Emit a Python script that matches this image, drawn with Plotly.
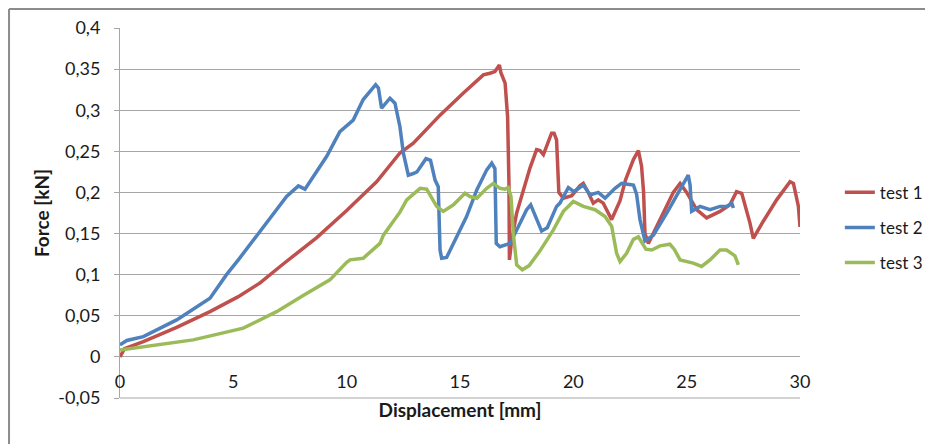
import plotly.graph_objects as go

# ---------------- data ----------------
test1_x = [0, 0.2, 1.03, 2.5, 3.97, 5.2, 6.18, 7.2, 8.68, 9.41, 10.0, 11.32, 12.35, 12.94,
           14.12, 15.15, 16.03, 16.32, 16.54, 16.74, 16.8, 16.99, 17.1, 17.16, 17.18, 17.28,
           17.5, 18.09, 18.38, 18.53, 18.68, 19.04, 19.15, 19.26, 19.36, 19.56, 19.93, 20.29,
           20.44, 20.66, 20.88, 21.1, 21.32, 21.69, 22.06, 22.3, 22.65, 22.87, 23.01, 23.1,
           23.16, 23.31, 23.82, 24.41, 24.71, 25.0, 25.44, 25.88, 26.47, 26.91, 27.2, 27.43,
           27.79, 27.94, 28.38, 28.97, 29.56, 29.71, 29.93, 30.0]
test1_y = [0.0, 0.010, 0.0186, 0.036, 0.055, 0.073, 0.090, 0.113, 0.145, 0.163, 0.178, 0.213,
           0.248, 0.260, 0.294, 0.321, 0.343, 0.345, 0.347, 0.355, 0.346, 0.333, 0.292, 0.211,
           0.118, 0.142, 0.175, 0.230, 0.252, 0.251, 0.246, 0.272, 0.272, 0.264, 0.200, 0.193,
           0.196, 0.208, 0.211, 0.200, 0.187, 0.191, 0.187, 0.167, 0.190, 0.215, 0.240, 0.251,
           0.232, 0.200, 0.150, 0.138, 0.166, 0.200, 0.211, 0.200, 0.179, 0.169, 0.177, 0.185,
           0.201, 0.199, 0.163, 0.144, 0.165, 0.191, 0.213, 0.211, 0.183, 0.158]

test2_x = [0, 0.3, 1.03, 2.5, 3.97, 4.7, 5.22, 5.88, 6.47, 7.35, 7.87, 8.16, 9.12, 9.7, 10.29,
           10.73, 11.28, 11.4, 11.54, 11.91, 12.13, 12.35, 12.5, 12.72, 12.94, 13.1, 13.5, 13.7,
           13.9, 14.04, 14.12, 14.19, 14.41, 14.85, 15.29, 15.74, 16.18, 16.4, 16.54, 16.6,
           16.76, 17.21, 17.5, 17.94, 18.12, 18.38, 18.6, 18.85, 19.26, 19.41, 19.78, 20.03,
           20.44, 20.74, 21.1, 21.4, 21.84, 22.13, 22.65, 22.79, 22.94, 23.16, 23.53, 24.12,
           24.71, 25.07, 25.15, 25.22, 25.59, 26.03, 26.47, 26.76, 26.99, 27.06]
test2_y = [0.0146, 0.020, 0.0247, 0.045, 0.0714, 0.100, 0.118, 0.142, 0.163, 0.195, 0.208,
           0.204, 0.244, 0.274, 0.288, 0.313, 0.331, 0.327, 0.3025, 0.3146, 0.3086, 0.280,
           0.248, 0.221, 0.223, 0.225, 0.241, 0.239, 0.215, 0.207, 0.130, 0.120, 0.121, 0.146,
           0.1706, 0.203, 0.2275, 0.2356, 0.229, 0.138, 0.134, 0.138, 0.1545, 0.179, 0.185,
           0.167, 0.153, 0.157, 0.183, 0.187, 0.206, 0.201, 0.209, 0.197, 0.200, 0.193, 0.205,
           0.211, 0.209, 0.198, 0.167, 0.141, 0.148, 0.175, 0.203, 0.221, 0.209, 0.177, 0.183,
           0.179, 0.183, 0.183, 0.187, 0.181]

test3_x = [0, 1.03, 3.23, 5.44, 6.91, 8.1, 9.26, 10.0, 10.15, 10.73, 11.47, 11.62, 12.35,
           12.65, 13.24, 13.53, 13.97, 14.26, 14.71, 15.22, 15.44, 15.74, 16.18, 16.47, 16.76,
           16.99, 17.13, 17.25, 17.35, 17.5, 17.75, 18.05, 18.53, 19.12, 19.56, 20.0, 20.44,
           20.96, 21.4, 21.69, 21.91, 22.06, 22.35, 22.65, 22.87, 23.2, 23.46, 23.82, 24.26,
           24.45, 24.71, 25.29, 25.66, 26.03, 26.47, 26.76, 27.13, 27.28]
test3_y = [0.0085, 0.0125, 0.0207, 0.035, 0.055, 0.075, 0.0937, 0.115, 0.118, 0.120, 0.138,
           0.148, 0.176, 0.191, 0.205, 0.204, 0.183, 0.177, 0.185, 0.199, 0.195, 0.193, 0.205,
           0.211, 0.205, 0.204, 0.206, 0.195, 0.150, 0.112, 0.106, 0.111, 0.129, 0.1545, 0.177,
           0.189, 0.183, 0.179, 0.1706, 0.159, 0.126, 0.116, 0.126, 0.143, 0.146, 0.131, 0.130,
           0.135, 0.137, 0.131, 0.118, 0.114, 0.110, 0.118, 0.130, 0.130, 0.123, 0.112]

series_names = ["test 1", "test 2", "test 3"]
series_colors = ["#C0504D", "#4F81BD", "#9BBB59"]

x_ticks = [0, 5, 10, 15, 20, 25, 30]
x_tick_text = ["0", "5", "10", "15", "20", "25", "30"]
y_ticks = [-0.05, 0, 0.05, 0.1, 0.15, 0.2, 0.25, 0.3, 0.35, 0.4]
y_tick_text = ["-0,05", "0", "0,05", "0,1", "0,15", "0,2", "0,25", "0,3", "0,35", "0,4"]

Y_MIN, Y_MAX = -0.05, 0.4

# ---------------- figure ----------------
FONT = "Lato, 'Open Sans', sans-serif"
GRID = "#a6a6a6"
fig = go.Figure()
for xs, ys, name, col in zip([test1_x, test2_x, test3_x], [test1_y, test2_y, test3_y],
                             series_names, series_colors):
    fig.add_trace(go.Scatter(x=xs, y=ys, mode="lines", name=name, legendgroup=name,
                             line=dict(color=col, width=3.5)))

# the page body has an 8px margin, so the figure is 8px smaller than the window
fig.update_layout(
    width=925, height=436, autosize=False,
    margin=dict(l=112, r=133, t=20, b=46, autoexpand=False),
    paper_bgcolor="white", plot_bgcolor="white",
    font=dict(family=FONT, size=18, color="#1a1a1a"),
    separators=", ",
    showlegend=True,
    legend=dict(x=1.0586, xanchor="left", y=0.46, yanchor="middle",
                bgcolor="rgba(0,0,0,0)", font=dict(size=17, family=FONT, color="#1a1a1a"),
                tracegroupgap=10),
)
fig.update_xaxes(
    range=[0, 30], tickvals=x_ticks, ticktext=x_tick_text,
    showgrid=False, zeroline=False, ticks="", showline=False,
    anchor="free", position=(0 - Y_MIN) / (Y_MAX - Y_MIN),
    ticklabelstandoff=12, tickfont=dict(size=18),
    title=dict(text="<b>Displacement [mm]</b>", standoff=12, font=dict(size=19)),
)
fig.update_yaxes(
    range=[Y_MIN, Y_MAX], tickvals=y_ticks, ticktext=y_tick_text,
    showgrid=True, gridcolor=GRID, gridwidth=1,
    zeroline=False,
    showline=True, linecolor=GRID, linewidth=1,
    ticks="outside", ticklen=5, tickcolor=GRID,
    ticklabelstandoff=10, tickfont=dict(size=18),
    title=dict(text="<b>Force [kN]</b>", standoff=3, font=dict(size=19)),
)

# bottom edge of the plot area (gridline at the lower range limit)
fig.add_shape(type="line", xref="paper", yref="paper", x0=0, x1=1, y0=0, y1=0,
              line=dict(color=GRID, width=1))
# outer chart border (top and left edges visible in the reference)
fig.add_shape(type="line", xref="paper", yref="paper", x0=-0.1632, x1=1.25, y0=1.0514, y1=1.0514,
              line=dict(color="#8c8c8c", width=2))
fig.add_shape(type="line", xref="paper", yref="paper", x0=-0.1632, x1=-0.1632, y0=1.0514, y1=-0.2,
              line=dict(color="#8c8c8c", width=2))

fig.write_html("out.html")
